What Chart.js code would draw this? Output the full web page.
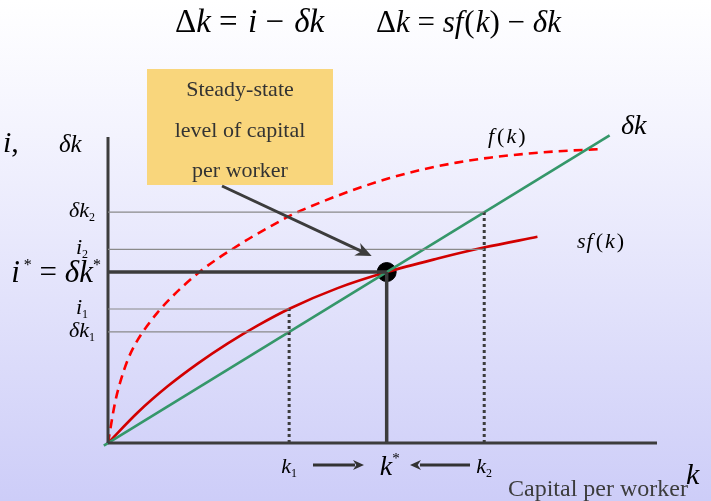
<!DOCTYPE html>
<html><head><meta charset="utf-8">
<script src="https://cdn.jsdelivr.net/npm/chart.js@4"></script>
<style>
html,body{margin:0;padding:0;}
body{width:711px;height:501px;background:linear-gradient(to bottom,#ffffff 0%,#f4f4fe 25%,#e2e2fb 60%,#cdcdf8 100%);overflow:hidden;}
canvas{display:block;}
</style></head>
<body>
<canvas id="c" width="711" height="501"></canvas>
<script>
// ---- data ----
const fK = [0, 0.25, 0.43, 0.72, 1.04, 1.40, 1.79, 2.29, 2.76, 3.37, 3.94, 4.44, 5.16, 5.88, 6.59, 7.71, 8.92, 10.11, 11.29, 12.51, 13.69, 14.87, 16.09, 17.63];
const fY = [0, 2.34, 3.51, 4.91, 5.96, 6.84, 7.66, 8.54, 9.27, 10.12, 10.79, 11.32, 12.05, 12.72, 13.34, 14.13, 14.87, 15.50, 16.00, 16.40, 16.69, 16.90, 17.06, 17.19];
const sfK = [0, 1.075, 2.15, 3.23, 4.30, 5.38, 6.49, 8.24, 10.0, 11.83, 13.48, 15.41];
const sfY = [0, 1.80, 3.33, 4.66, 5.83, 6.88, 7.84, 9.06, 10.0, 10.79, 11.43, 12.06];
const depK = [-0.15, 18.0];
const depY = [-0.15, 18.0];
const kTickValues = [6.5, 10, 13.5];           // k1, k*, k2
const kTickLabels = ['k1', 'k*', 'k2'];
const yTickValues = [13.5, 11.33, 7.84, 6.5];  // δk2, i2, i1, δk1
const yTickLabels = ['δk2', 'i2', 'i1', 'δk1'];
const steadyK = 10, steadyY = 10;
const xMax = 19.7, yMax = 17.9;

const pts = (xs, ys) => xs.map((x, i) => ({x: x, y: ys[i]}));
const seg = (x1, y1, x2, y2) => [{x: x1, y: y1}, {x: x2, y: y2}];
const line = (data, color, width, dash) => ({data, borderColor: color, borderWidth: width, borderDash: dash || [], pointRadius: 0, showLine: true, fill: false, tension: 0});

const datasets = [
  // thin grey guides
  line(seg(0, yTickValues[0], kTickValues[2], yTickValues[0]), '#8a8a8a', 1.2),
  line(seg(0, yTickValues[1], kTickValues[2], yTickValues[1]), '#8a8a8a', 1.2),
  line(seg(0, yTickValues[2], kTickValues[0], yTickValues[2]), '#8a8a8a', 1.2),
  line(seg(0, yTickValues[3], kTickValues[0], yTickValues[3]), '#8a8a8a', 1.2),
  // dotted verticals
  line(seg(kTickValues[0], 0, kTickValues[0], yTickValues[2]), '#3c3c3c', 3, [3, 3]),
  line(seg(kTickValues[2], 0, kTickValues[2], yTickValues[0]), '#3c3c3c', 3, [3, 3]),
  // steady-state thick lines
  line(seg(0, steadyY, steadyK, steadyY), '#3c3c3c', 3.5),
  line(seg(steadyK, 0, steadyK, steadyY), '#3c3c3c', 3.5),
  // axes
  line(seg(0, 0, 0, yMax), '#3c3c3c', 3),
  line(seg(0, 0, xMax, 0), '#3c3c3c', 3),
  // curves
  line(pts(depK, depY), '#35976a', 2.6),
  Object.assign(line(pts(sfK, sfY), '#d20000', 2.6), {cubicInterpolationMode: 'monotone'}),
  Object.assign(line(pts(fK, fY), '#ff0000', 2.6, [9, 6]), {cubicInterpolationMode: 'monotone'}),
  // steady state point
  {data: [{x: steadyK, y: steadyY}], pointRadius: 9.5, pointBorderWidth: 1, pointBackgroundColor: '#000', pointBorderColor: '#000', showLine: false}
];

const SERIF = '"Liberation Serif","Times New Roman",serif';
function rich(ctx, x, y, parts, align) {
  let w = 0;
  parts.forEach(p => { ctx.font = (p.it ? 'italic ' : '') + p.s + 'px ' + SERIF; p.w = ctx.measureText(p.t).width + (p.gap || 0); w += p.w; });
  let cx = align === 'center' ? x - w / 2 : align === 'right' ? x - w : x;
  parts.forEach(p => {
    ctx.font = (p.it ? 'italic ' : '') + p.s + 'px ' + SERIF;
    ctx.textAlign = 'left'; ctx.textBaseline = 'alphabetic';
    ctx.fillText(p.t, cx, y + (p.dy || 0));
    cx += p.w;
  });
}
function arrowHead(ctx, x, y, ang, len, wid) {
  ctx.save(); ctx.translate(x, y); ctx.rotate(ang);
  ctx.beginPath(); ctx.moveTo(0, 0); ctx.lineTo(-len, -wid); ctx.lineTo(-len * 0.7, 0); ctx.lineTo(-len, wid); ctx.closePath(); ctx.fill();
  ctx.restore();
}
function fk(pre, s) {
  const parts = [];
  if (pre) parts.push({t: pre, s: s, it: 1, gap: 1});
  parts.push({t: 'f', s: s, it: 1, gap: 3}, {t: '(', s: s, gap: 2}, {t: 'k', s: s, it: 1, gap: 2}, {t: ')', s: s});
  return parts;
}

const annot = {
  id: 'annot',
  afterDatasetsDraw(chart) {
    const ctx = chart.ctx, xs = chart.scales.x, ys = chart.scales.y;
    ctx.save();
    ctx.fillStyle = '#000';
    // title equations
    const T = 33;
    rich(ctx, 175, 32, [{t: 'Δ', s: T}, {t: 'k', s: T, it: 1}, {t: ' = ', s: T, gap: 2}, {t: 'i', s: T, it: 1}, {t: ' − ', s: T, gap: 2}, {t: 'δk', s: T, it: 1}], 'left');
    rich(ctx, 376, 32, [{t: 'Δ', s: 31}, {t: 'k', s: 31, it: 1}, {t: ' = ', s: 31}, {t: 'sf', s: 31, it: 1, gap: 1}, {t: '(', s: 31, gap: 1}, {t: 'k', s: 31, it: 1}, {t: ')', s: 31}, {t: ' − ', s: 31}, {t: 'δk', s: 31, it: 1}], 'left');
    // y axis title
    rich(ctx, 3, 152, [{t: 'i', s: 30, it: 1}, {t: ',', s: 30}], 'left');
    rich(ctx, 59, 152, [{t: 'δk', s: 25, it: 1}], 'left');
    // y tick labels
    const lx = 82;
    yTickLabels.forEach((lab, i) => {
      const py = ys.getPixelForValue(yTickValues[i]);
      const base = lab.slice(0, -1), sub = lab.slice(-1);
      rich(ctx, lx, py + 5, [{t: base, s: 22, it: 1}, {t: sub, s: 12, dy: 4}], 'center');
    });
    const pyS = ys.getPixelForValue(steadyY);
    rich(ctx, 101, pyS + 10, [{t: 'i', s: 31, it: 1}, {t: ' *', s: 16, dy: -12}, {t: ' = ', s: 31}, {t: 'δk', s: 31, it: 1}, {t: '*', s: 16, dy: -12}], 'right');
    // x tick labels
    const ly = 473;
    kTickLabels.forEach((lab, i) => {
      const px = xs.getPixelForValue(kTickValues[i]);
      if (lab === 'k*') rich(ctx, px + 3, ly + 2, [{t: 'k', s: 28, it: 1}, {t: '*', s: 15, dy: -12}], 'center');
      else rich(ctx, px, ly, [{t: 'k', s: 22, it: 1}, {t: lab.slice(1), s: 12, dy: 4}], 'center');
    });
    // small arrows
    ctx.strokeStyle = '#333'; ctx.fillStyle = '#333'; ctx.lineWidth = 3;
    ctx.beginPath(); ctx.moveTo(313, 465); ctx.lineTo(355, 465); ctx.stroke();
    arrowHead(ctx, 364, 465, 0, 11, 5);
    ctx.beginPath(); ctx.moveTo(470, 465); ctx.lineTo(420, 465); ctx.stroke();
    arrowHead(ctx, 410, 465, Math.PI, 11, 5);
    // x axis title
    ctx.fillStyle = '#3c3c3c';
    rich(ctx, 508, 496, [{t: 'Capital per worker', s: 24}], 'left');
    ctx.fillStyle = '#000';
    rich(ctx, 686, 484, [{t: 'k', s: 30, it: 1}], 'left');
    // curve labels
    rich(ctx, 621, 134, [{t: 'δk', s: 28, it: 1}], 'left');
    rich(ctx, 488, 143, fk('', 22), 'left');
    rich(ctx, 577, 248, fk('s', 22), 'left');
    // call-out box
    ctx.fillStyle = '#f9d67c';
    ctx.fillRect(147, 69, 186, 116);
    ctx.fillStyle = '#333';
    rich(ctx, 240, 96, [{t: 'Steady-state', s: 22}], 'center');
    rich(ctx, 240, 137, [{t: 'level of capital', s: 22}], 'center');
    rich(ctx, 240, 177, [{t: 'per worker', s: 22}], 'center');
    // pointer arrow
    const ex = xs.getPixelForValue(steadyK) - 15, ey = ys.getPixelForValue(steadyY) - 16;
    ctx.strokeStyle = '#3c3c3c'; ctx.fillStyle = '#3c3c3c'; ctx.lineWidth = 3;
    const sx = 222, sy = 186;
    const ang = Math.atan2(ey - sy, ex - sx);
    ctx.beginPath(); ctx.moveTo(sx, sy); ctx.lineTo(ex - 8 * Math.cos(ang), ey - 8 * Math.sin(ang)); ctx.stroke();
    arrowHead(ctx, ex, ey, ang, 16, 7);
    ctx.restore();
  }
};

new Chart(document.getElementById('c'), {
  type: 'scatter',
  data: {datasets},
  options: {
    responsive: false, animation: false, devicePixelRatio: 1,
    layout: {padding: {left: 108, right: 54, top: 137, bottom: 58}},
    scales: {x: {type: 'linear', min: 0, max: xMax, display: false}, y: {type: 'linear', min: 0, max: yMax, display: false}},
    plugins: {legend: {display: false}, tooltip: {enabled: false}},
    datasets: {scatter: {clip: false}},
    elements: {line: {borderCapStyle: 'butt'}}
  },
  plugins: [annot]
});
</script>
</body></html>
